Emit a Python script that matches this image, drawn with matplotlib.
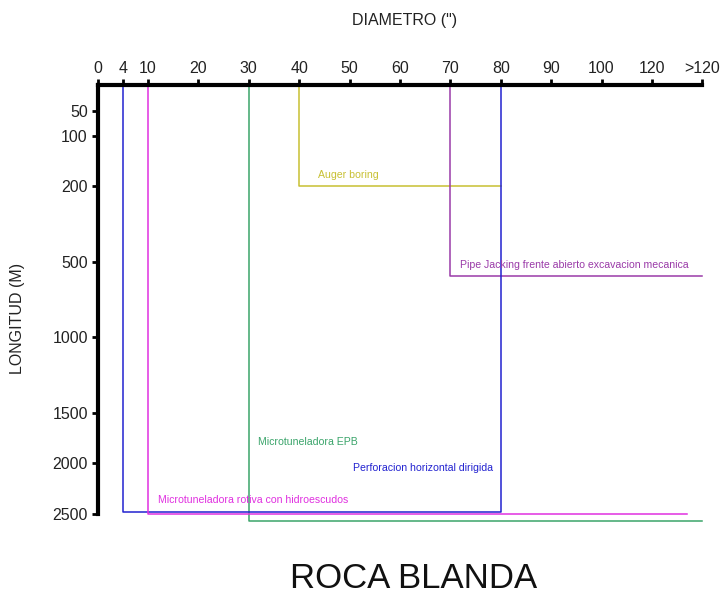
import numpy as np
import matplotlib
matplotlib.use("Agg")
import matplotlib.pyplot as plt

plt.rcParams['font.family'] = ['Liberation Sans', 'DejaVu Sans']

# ---- data ----
x_tick_values = [0, 4, 10, 20, 30, 40, 50, 60, 70, 80, 90, 100, 120, 130]
x_tick_labels = ["0", "4", "10", "20", "30", "40", "50", "60", "70", "80", "90", "100", "120", ">120"]
y_tick_values = [50, 100, 200, 500, 1000, 1500, 2000, 2500]
y_tick_labels = ["50", "100", "200", "500", "1000", "1500", "2000", "2500"]

methods = ["Auger boring",
           "Pipe Jacking frente abierto excavacion mecanica",
           "Microtuneladora EPB",
           "Perforacion horizontal dirigida",
           "Microtuneladora rotiva con hidroescudos"]
diam_min = [40, 70, 30, 4, 10]
diam_max = [80, 130, 130, 80, 127]
long_max = [200, 590, 2570, 2480, 2500]
closed_right = [False, False, False, True, False]

colors = ["#c8c032", "#9a3aa8", "#3aa46a", "#2222d0", "#e030e0"]
label_pos = [(43.7, 178), (72, 518), (31.8, 1790), (50.7, 2042), (12.0, 2358)]

# ---- piecewise scales (axis breaks as in the original) ----
x_knots_val = [0, 4, 10, 100, 120, 130]
x_knots_pos = [0, 5, 10, 100, 110, 120]
y_knots_val = [0, 50, 100, 200, 500, 1000, 1500, 2000, 2500]
y_knots_pos = [0, 0.5, 1, 2, 3.5, 5, 6.5, 7.5, 8.5]


def piecewise(xp, fp):
    xp = np.asarray(xp, float)
    fp = np.asarray(fp, float)
    s0 = (fp[1] - fp[0]) / (xp[1] - xp[0])
    s1 = (fp[-1] - fp[-2]) / (xp[-1] - xp[-2])

    def f(v):
        v = np.asarray(v, float)
        out = np.interp(v, xp, fp)
        out = np.where(v < xp[0], fp[0] + (v - xp[0]) * s0, out)
        out = np.where(v > xp[-1], fp[-1] + (v - xp[-1]) * s1, out)
        return out
    return f


fx, ix = piecewise(x_knots_val, x_knots_pos), piecewise(x_knots_pos, x_knots_val)
fy, iy = piecewise(y_knots_val, y_knots_pos), piecewise(y_knots_pos, y_knots_val)

W, H = 721, 596
fig = plt.figure(figsize=(W / 100, H / 100), dpi=100)
px_x = 5.04
px_y = 50.4
left, top = 97.5, 85.5
ax = fig.add_axes([left / W, (H - top - 9 * px_y) / H, 121 * px_x / W, 9 * px_y / H])
ax.set_xscale('function', functions=(fx, ix))
ax.set_yscale('function', functions=(fy, iy))
ax.set_xlim(0, ix(121))
ax.set_ylim(iy(9), 0)

for i, name in enumerate(methods):
    xs = [diam_min[i], diam_min[i], diam_max[i]]
    ys = [0, long_max[i], long_max[i]]
    if closed_right[i]:
        xs.append(diam_max[i])
        ys.append(0)
    ax.plot(xs, ys, color=colors[i], lw=1.1, clip_on=False, zorder=2)
    ax.text(label_pos[i][0], label_pos[i][1], name, color=colors[i],
            fontsize=7.6, va='center', ha='left')

for s in ['right', 'bottom']:
    ax.spines[s].set_visible(False)
ax.spines['top'].set_linewidth(3)
ax.spines['left'].set_linewidth(3)
ax.spines['top'].set_bounds(0, 130)
ax.spines['left'].set_bounds(0, 2500)
ax.spines['top'].set_zorder(5)
ax.spines['left'].set_zorder(5)

ax.xaxis.set_ticks_position('top')
ax.xaxis.set_label_position('top')
ax.set_xticks(x_tick_values)
ax.set_xticklabels(x_tick_labels)
ax.set_yticks(y_tick_values)
ax.set_yticklabels(y_tick_labels)
ax.minorticks_off()
ax.tick_params(axis='x', which='major', direction='out', length=4, width=2,
               labelsize=11.5, pad=3, colors='black')
ax.tick_params(axis='y', which='major', direction='out', length=4, width=2,
               labelsize=11.5, pad=3, colors='black')
for lab in ax.get_xticklabels() + ax.get_yticklabels():
    lab.set_color('#222222')

fig.text(405 / W, 1 - 21 / H, 'DIAMETRO (")', fontsize=11.5, ha='center', va='center',
         color='#222222')
fig.text(18 / W, 1 - 318 / H, 'LONGITUD (M)', fontsize=11.5, ha='center', va='center',
         rotation=90, color='#222222')
fig.text(414 / W, 1 - 579 / H, 'ROCA BLANDA', fontsize=25, ha='center', va='center',
         color='#111111')

fig.savefig("out.png", dpi=100)
